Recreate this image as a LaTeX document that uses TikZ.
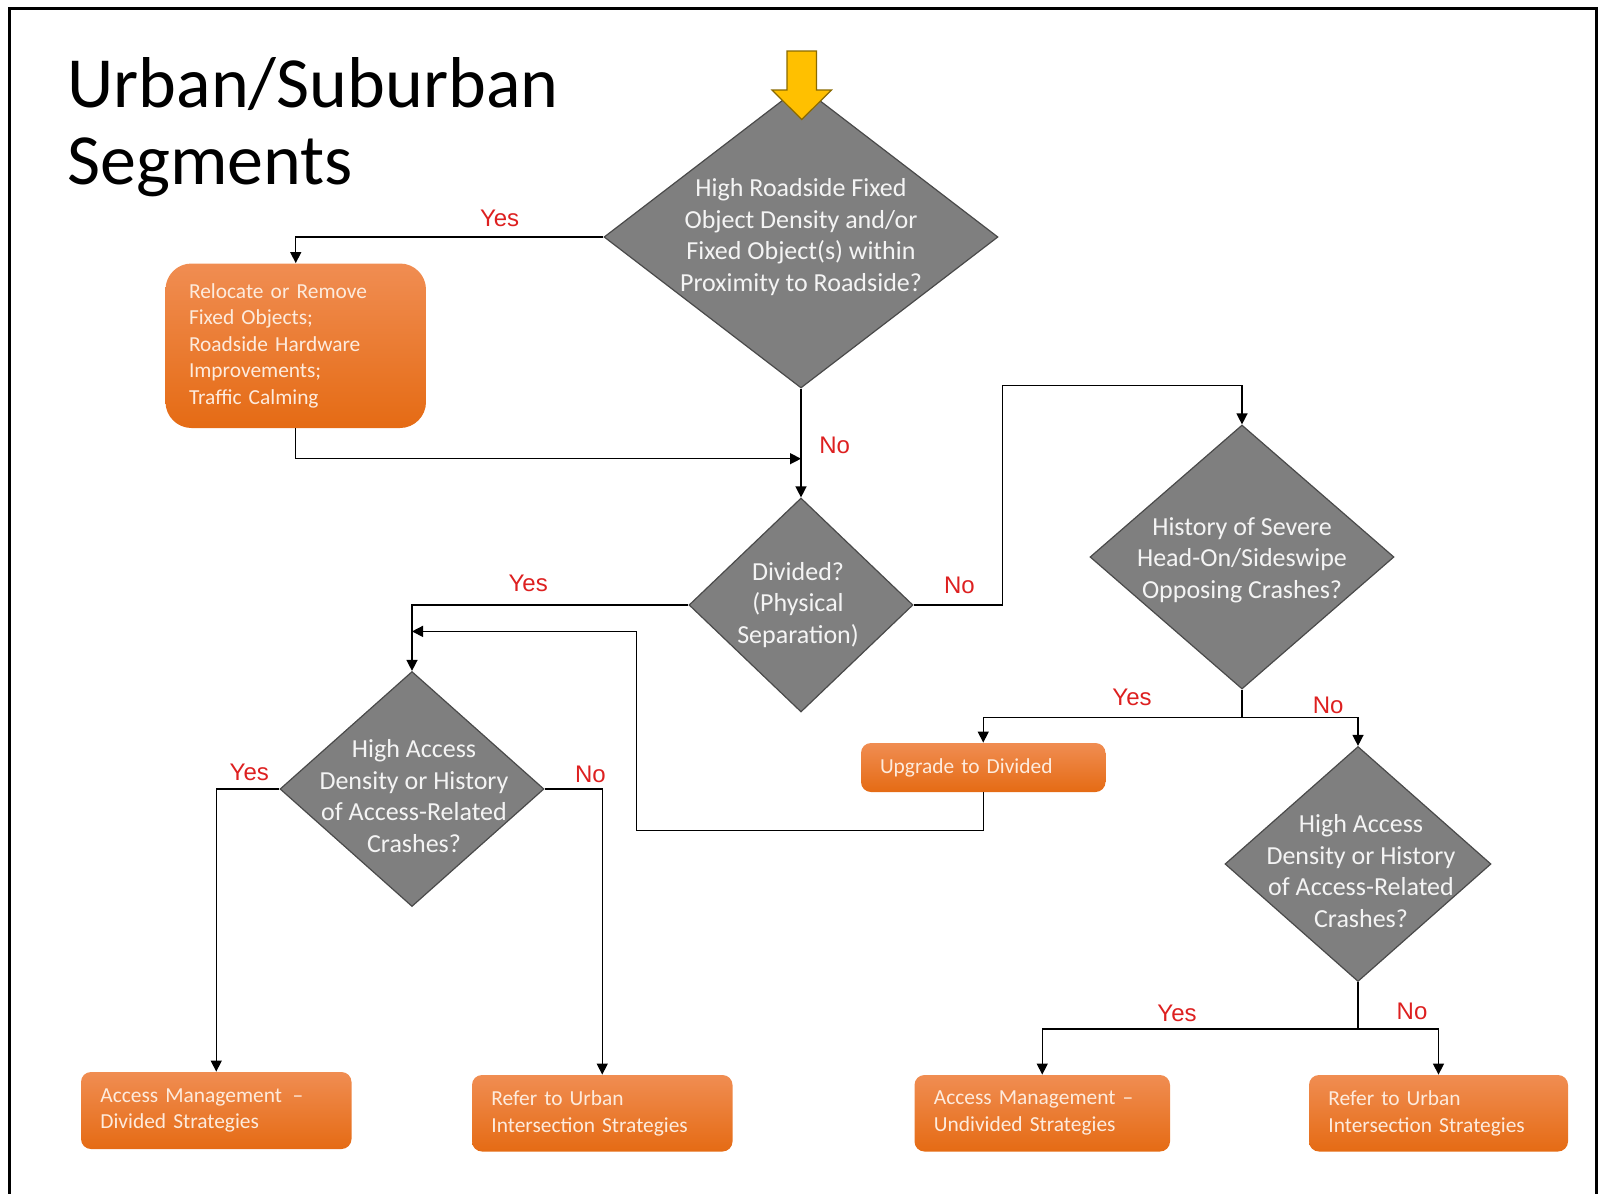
\documentclass[tikz,border=0pt]{standalone}
\usepackage{fontspec}
\setmainfont{Carlito}
\newfontfamily\lblfont{Liberation Sans}
\usetikzlibrary{shapes.geometric,arrows.meta,calc}
\definecolor{diafill}{HTML}{7F7F7F}
\definecolor{dialine}{HTML}{4A4A4A}
\definecolor{diatxt}{HTML}{F4F4F4}
\definecolor{boxtop}{HTML}{F08D52}
\definecolor{boxbot}{HTML}{E56B14}
\definecolor{boxtxt}{HTML}{FDEBDD}
\definecolor{lblred}{HTML}{DD2020}
\definecolor{arrowfill}{HTML}{FFC000}
\definecolor{arrowline}{HTML}{8A6A00}
\begin{document}
\begin{tikzpicture}[x=0.5pt,y=-0.5pt,
  dia/.style={diamond,draw=dialine,line width=0.6pt,fill=diafill,inner sep=0pt},
  diatext/.style={text=diatxt,align=center,font=\fontsize{13}{15.8}\selectfont},
  obox/.style={draw=none,top color=boxtop,bottom color=boxbot,rounded corners=5pt,
    text=boxtxt,align=left,font=\fontsize{10.7}{13.3}\selectfont,inner ysep=0pt},
  conn/.style={draw=black,line width=0.7pt,-{Triangle[length=5.5pt,width=5.5pt]}},
  plain/.style={draw=black,line width=0.7pt},
  lbl/.style={text=lblred,font=\lblfont\fontsize{12}{14}\selectfont,inner sep=0pt}]
% page frame
\useasboundingbox (0,0) rectangle (1602,1194);
\draw[line width=1.5pt] (9,1194) -- (9,8.5) -- (1596,8.5) -- (1596,1194);

% title
\node[anchor=base west,inner sep=0pt,font=\fontsize{36}{38}\selectfont] (title1) at (67,107) {Urban/Suburban};
\node[anchor=base west,inner sep=0pt,font=\fontsize{36}{38}\selectfont] (title2) at (67,184) {Segments};

% decision diamonds
\node[dia,minimum width=197pt,minimum height=151pt] (d1) at (801,237) {};
\node[diatext] at (d1) {High Roadside Fixed\\Object Density and/or\\Fixed Object(s) within\\Proximity to Roadside?};
\node[dia,minimum width=112pt,minimum height=107pt] (d2) at (801,605) {};
\node[diatext] at ($(d2)+(-3,0)$) {Divided?\\(Physical\\Separation)};
\node[dia,minimum width=152pt,minimum height=132pt] (d3) at (1242,557) {};
\node[diatext] at ($(d3)+(0,3)$) {History of Severe\\Head-On/Sideswipe\\Opposing Crashes?};
\node[dia,minimum width=132pt,minimum height=117.5pt] (d4) at (412,789) {};
\node[diatext] at ($(d4)+(2,7)$) {High Access\\Density or History\\of Access-Related\\Crashes?};
\node[dia,minimum width=133pt,minimum height=117.5pt] (d5) at (1358,864) {};
\node[diatext] at ($(d5)+(3,7)$) {High Access\\Density or History\\of Access-Related\\Crashes?};

% entry arrow
\filldraw[fill=arrowfill,draw=arrowline,line width=0.6pt,line join=miter]
  (787,51) -- (816.5,51) -- (816.5,90) -- (831.5,90) -- (801.75,119.5)
  -- (772,90) -- (787,90) -- cycle;

% action boxes
\node[obox,rounded corners=13pt,minimum width=130.25pt,minimum height=82.25pt,
  inner xsep=11.75pt,text width=106.75pt] (r1) at (295.75,345.75)
  {Relocate or Remove\\Fixed Objects;\\Roadside Hardware\\Improvements;\\Traffic Calming};
\node[obox,minimum width=122.25pt,minimum height=24.5pt,inner xsep=9.5pt,text width=103.25pt]
  (up) at (983.25,767.5) {Upgrade to Divided};
\node[obox,minimum width=135.25pt,minimum height=38.5pt,inner xsep=9.7pt,text width=115.85pt]
  (amd) at (216.25,1110.5) {Access Management \,–\\Divided Strategies};
\node[obox,minimum width=130.25pt,minimum height=38.25pt,inner xsep=9.7pt,text width=110.85pt]
  (refl) at (602.25,1113.25) {Refer to Urban\\Intersection Strategies};
\node[obox,minimum width=127.75pt,minimum height=38.25pt,inner xsep=9.7pt,text width=108.35pt]
  (amu) at (1042.25,1113.25) {Access Management –\\Undivided Strategies};
\node[obox,minimum width=129.5pt,minimum height=38.25pt,inner xsep=9.7pt,text width=110.1pt]
  (refr) at (1438.5,1113.25) {Refer to Urban\\Intersection Strategies};

% junction points
\coordinate (j1) at (801,458.7);
\coordinate (c1) at (1002.3,385.2);
\coordinate (c2) at (1242,717.2);
\coordinate (c3) at (636.5,830.6);
\coordinate (c4) at (412,631.4);
\coordinate (c5) at (1358,1028.9);

% connectors
\draw[conn] (d1.west) -| (r1.north);
\draw[conn] (d1.south) -- (d2.north);
\draw[conn] (r1.south) |- (j1);
\draw[conn] (d2.west) -| (d4.north);
\draw[conn] (d2.east) -| (c1) -| (d3.north);
\draw[plain] (d3.south) -- (c2);
\draw[conn] (c2) -| (up.north);
\draw[conn] (c2) -| (d5.north);
\draw[conn] (up.south) |- (c3) |- (c4);
\draw[conn] (d4.west) -| (amd.north);
\draw[conn] (d4.east) -| (refl.north);
\draw[plain,line width=1.2pt] (d5.south) -- (c5);
\draw[conn] (c5) -| (amu.north);
\draw[conn] (c5) -| (refr.north);

% branch labels
\node[lbl] (y1) at (499.6,218.6) {Yes};
\node[lbl] (n1) at (834.7,445.5) {No};
\node[lbl] (y2) at (528.2,583.4) {Yes};
\node[lbl] (n2) at (959.4,585.4) {No};
\node[lbl] (y3) at (1132,697.8) {Yes};
\node[lbl] (n3) at (1328.2,705) {No};
\node[lbl] (y4) at (249.3,772.4) {Yes};
\node[lbl] (n4) at (590.5,774.5) {No};
\node[lbl] (y5) at (1177,1013.5) {Yes};
\node[lbl] (n5) at (1412,1011.5) {No};
\end{tikzpicture}
\end{document}
